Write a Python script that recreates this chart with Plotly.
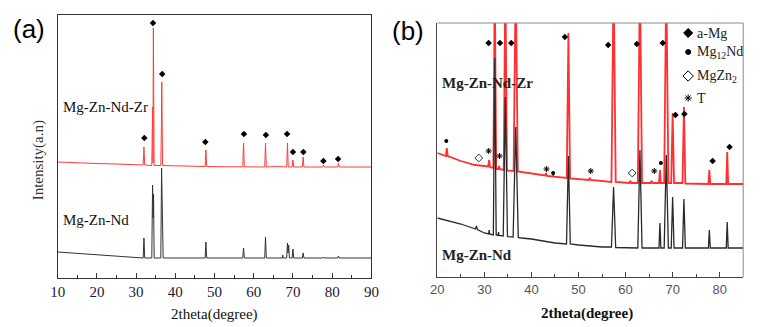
import plotly.graph_objects as go

W, H = 762, 327

# ---------------- Panel (a) data ----------------
a_red_x = [10, 15, 20, 25, 30, 31.8, 32.0, 32.2, 34.0, 34.2, 34.3, 34.4, 34.6, 36.3, 36.45, 36.55, 36.75,
           40, 45, 47.6, 47.8, 48.0, 53, 57.2, 57.4, 57.6, 62.8, 63.0, 63.2, 66, 68.4, 68.6, 68.8,
           69.8, 70.0, 70.2, 72.4, 72.6, 72.8, 77.6, 77.8, 78.0, 81.4, 81.6, 81.8, 90]
a_red_y = [116, 115, 114.5, 114, 113, 113, 131, 113, 112.5, 171, 115, 250, 112.5, 112.5, 150, 196, 112.5,
           112, 111.5, 111.5, 128, 111.5, 111.2, 111.2, 135, 111.2, 111, 135, 111, 111.5, 111, 135, 111,
           111, 118, 111, 111, 121, 111, 111, 113, 111, 111, 115, 111, 111]

a_blk_x = [10, 15, 20, 25, 30, 31.8, 32.0, 32.1, 32.2, 34.0, 34.2, 34.35, 34.45, 34.6, 36.3, 36.5, 36.6, 36.7, 36.9,
           40, 47.6, 47.8, 48.0, 57.2, 57.4, 57.6, 62.8, 63.0, 63.2, 67.3, 67.4, 67.5, 68.4, 68.6, 68.75, 68.9, 69.1,
           69.8, 70.0, 70.2, 72.4, 72.6, 72.8, 77.6, 77.8, 78.0, 81.4, 81.6, 81.8, 90]
a_blk_y = [26, 24.5, 23, 21.5, 20, 20, 40, 30, 20, 20, 93, 60, 84, 20, 20, 110, 70, 85, 20,
           20, 20, 36, 20, 20, 30, 20, 20, 41, 20, 20, 23, 20, 20, 35, 25, 33, 20,
           20, 29, 20, 20, 25, 20, 20, 21, 20, 20, 22, 20, 20]

a_mark_x = [32.1, 34.3, 36.65, 47.65, 57.5, 63.1, 68.5, 70.0, 72.65, 77.75, 81.5]
a_mark_y = [140, 255, 204, 136, 144, 143, 144, 126, 126, 117, 119]

a_ticks = [10, 20, 30, 40, 50, 60, 70, 80, 90]

# ---------------- Panel (b) data ----------------
b_red_x = [20, 21.8, 22.0, 22.2, 25, 28, 30.8, 31.0, 31.2, 31.9, 32.2, 32.5, 33.0, 33.1, 33.2, 34.1, 34.45, 34.8,
           36.2, 36.65, 37.1, 37.8, 40, 42.9, 43.1, 43.3, 44.4, 44.6, 44.8, 47.5, 47.85, 48.2, 52.2, 52.4, 52.6,
           57.0, 57.45, 57.9, 60.8, 61.0, 61.2, 62.6, 63.05, 63.5, 65.3, 65.5, 65.7, 67.1, 67.3, 67.5,
           68.2, 68.65, 69.1, 69.7, 70.0, 70.3, 72.1, 72.4, 72.7, 77.6, 77.8, 78.0, 81.4, 81.6, 81.8, 85]
b_red_y = [124, 121, 129, 121, 116, 112, 110.5, 117, 110, 109, 300, 108, 108, 111, 108, 107, 300, 106.5,
           106, 300, 105.5, 105, 104, 101.5, 104, 101, 100.5, 102, 100.3, 99, 244, 98.5, 97, 99, 97,
           95, 300, 95, 94, 96, 94, 94, 300, 94, 94, 96, 94, 94, 107, 94,
           94, 300, 94, 94, 164, 94, 94, 170, 93.5, 93, 107, 93, 93, 125, 93, 93]

b_blk_x = [20, 25, 28.1, 28.3, 28.5, 30, 30.9, 31.0, 31.1, 31.9, 32.2, 32.5, 32.9, 33.0, 33.1, 34.0, 34.45, 34.9,
           36.1, 36.65, 37.2, 37.8, 40, 45, 47.45, 47.85, 48.25, 50, 55, 57.0, 57.45, 57.9, 62.6, 63.05, 63.5,
           67.1, 67.3, 67.5, 68.2, 68.65, 69.1, 69.7, 70.0, 70.3, 72.1, 72.4, 72.7, 77.6, 77.8, 78.0,
           81.4, 81.6, 81.8, 85]
b_blk_y = [59, 53, 48, 51, 47.5, 44, 43, 47, 43, 42, 219, 42, 41.5, 45, 41.5, 41, 180, 40.5,
           40, 150, 39.5, 39, 38, 34, 33, 121, 33, 32, 30, 30, 90, 29.5, 29, 127, 29,
           29, 54, 29, 29, 122, 29, 29, 80, 29, 29, 78, 29, 29, 47, 29,
           29, 55, 29, 29]

b_amg_x = [30.9, 33.3, 35.7, 47.1, 56.3, 62.4, 67.9, 70.6, 72.5, 78.5, 82.1]
b_amg_y = [234, 234, 234, 240, 232, 233, 234, 162, 163, 116, 130]
b_nd_x = [21.9, 44.6, 67.5]
b_nd_y = [136, 104, 114]
b_zn_x = [28.8, 61.4]
b_zn_y = [119, 104]
b_t_x = [30.9, 33.2, 43.2, 52.6, 66.1]
b_t_y = [126, 121, 108, 106, 106]

b_ticks = [20, 30, 40, 50, 60, 70, 80]

legend_names = ["a-Mg", "Mg<sub>12</sub>Nd", "MgZn<sub>2</sub>", "T"]

SERIF = "Liberation Serif, Times New Roman, serif"
SANS = "Liberation Sans, Arial, sans-serif"

# plot-area pixel geometry
ax_l, ax_r, ax_t, ax_b = 51.7, 371.7, 15, 278
bx_l, bx_r, bx_t, bx_b = 439, 751, 23, 277

def px(x):
    return x / W

def py(y):
    return 1 - y / H

fig = go.Figure()

fig.add_trace(go.Scatter(x=a_red_x, y=a_red_y, mode="lines", line=dict(color="#ff3c3c", width=1),
                         xaxis="x", yaxis="y", showlegend=False))
fig.add_trace(go.Scatter(x=a_blk_x, y=a_blk_y, mode="lines", line=dict(color="#333333", width=1),
                         xaxis="x", yaxis="y", showlegend=False))
fig.add_trace(go.Scatter(x=a_mark_x, y=a_mark_y, mode="markers",
                         marker=dict(symbol="diamond", color="black", size=5),
                         xaxis="x", yaxis="y", showlegend=False))

fig.add_trace(go.Scatter(x=b_red_x, y=b_red_y, mode="lines", line=dict(color="#ff3030", width=1.8),
                         xaxis="x2", yaxis="y2", showlegend=False))
fig.add_trace(go.Scatter(x=b_blk_x, y=b_blk_y, mode="lines", line=dict(color="#2a2a2a", width=1.3),
                         xaxis="x2", yaxis="y2", showlegend=False))
fig.add_trace(go.Scatter(x=b_amg_x, y=b_amg_y, mode="markers",
                         marker=dict(symbol="diamond", color="black", size=5),
                         xaxis="x2", yaxis="y2", showlegend=False))
fig.add_trace(go.Scatter(x=b_nd_x, y=b_nd_y, mode="markers",
                         marker=dict(symbol="circle", color="black", size=4),
                         xaxis="x2", yaxis="y2", showlegend=False))
fig.add_trace(go.Scatter(x=b_zn_x, y=b_zn_y, mode="markers",
                         marker=dict(symbol="diamond-open", color="black", size=6, line=dict(width=0.8)),
                         xaxis="x2", yaxis="y2", showlegend=False))
fig.add_trace(go.Scatter(x=b_t_x, y=b_t_y, mode="markers",
                         marker=dict(symbol="asterisk-open", color="black", size=5, line=dict(width=1, color="black")),
                         xaxis="x2", yaxis="y2", showlegend=False))

# legend for panel (b) (markers drawn inside the plot area)
leg_sym = ["diamond", "circle", "diamond-open", "asterisk-open"]
leg_size = [7, 5, 8, 6]
leg_rows = [244, 225, 201, 179]
for s, sz, yy in zip(leg_sym, leg_size, leg_rows):
    fig.add_trace(go.Scatter(x=[73.3], y=[yy], mode="markers",
                             marker=dict(symbol=s, color="black", size=sz, line=dict(width=1, color="black")),
                             xaxis="x2", yaxis="y2", showlegend=False, cliponaxis=False))

annotations = []
for name, yy in zip(legend_names, leg_rows):
    annotations.append(dict(x=74.8, y=yy, xref="x2", yref="y2", text=name, showarrow=False,
                            xanchor="left", yanchor="middle", font=dict(family=SERIF, size=14, color="#222")))

# sample labels
annotations += [
    dict(x=px(55), y=py(107), xref="paper", yref="paper", text="Mg-Zn-Nd-Zr", showarrow=False,
         xanchor="left", yanchor="middle", font=dict(family=SERIF, size=15, color="#111")),
    dict(x=px(55), y=py(220), xref="paper", yref="paper", text="Mg-Zn-Nd", showarrow=False,
         xanchor="left", yanchor="middle", font=dict(family=SERIF, size=15, color="#111")),
    dict(x=px(442), y=py(83), xref="paper", yref="paper", text="<b>Mg-Zn-Nd-Zr</b>", showarrow=False,
         xanchor="left", yanchor="middle", font=dict(family=SERIF, size=15, color="#222")),
    dict(x=px(442), y=py(255), xref="paper", yref="paper", text="<b>Mg-Zn-Nd</b>", showarrow=False,
         xanchor="left", yanchor="middle", font=dict(family=SERIF, size=15, color="#222")),
    # panel letters
    dict(x=px(4), y=py(29), xref="paper", yref="paper", text="(a)", showarrow=False,
         xanchor="left", yanchor="middle", font=dict(family=SANS, size=26, color="black")),
    dict(x=px(391), y=py(31), xref="paper", yref="paper", text="(b)", showarrow=False,
         xanchor="left", yanchor="middle", font=dict(family=SANS, size=26, color="black")),
    # axis titles
    dict(x=px((ax_l + ax_r) / 2), y=py(314), xref="paper", yref="paper", text="2theta(degree)", showarrow=False,
         xanchor="center", yanchor="middle", font=dict(family=SERIF, size=15, color="#111")),
    dict(x=px(32), y=py(160), xref="paper", yref="paper", text="Intensity(a.n)", showarrow=False,
         textangle=-90, xanchor="center", yanchor="middle", font=dict(family=SERIF, size=15, color="#333")),
    dict(x=px(592), y=py(313), xref="paper", yref="paper", text="<b>2theta(degree)</b>", showarrow=False,
         xanchor="center", yanchor="middle", font=dict(family=SERIF, size=15, color="#111")),
]

shapes = [
    dict(type="line", xref="x2 domain", yref="y2 domain", x0=0, x1=1, y0=1, y1=1,
         line=dict(color="#8a8a8a", width=1)),
    dict(type="line", xref="x2 domain", yref="y2 domain", x0=1, x1=1, y0=0, y1=1,
         line=dict(color="#8a8a8a", width=1)),
]

fig.update_layout(
    width=W, height=H, margin=dict(l=0, r=0, t=0, b=0),
    paper_bgcolor="white", plot_bgcolor="white",
    showlegend=False, hovermode=False,
    annotations=annotations, shapes=shapes,
    xaxis=dict(domain=[px(ax_l), px(ax_r)], range=[10, 90], anchor="y",
               showline=True, linecolor="#333", linewidth=1, mirror=True,
               ticks="inside", ticklen=5, tickcolor="#333", tickvals=a_ticks,
               minor=dict(dtick=5, tick0=10, ticks="inside", ticklen=3, tickcolor="#333"),
               tickfont=dict(family=SERIF, size=15, color="#1a1a30"),
               showgrid=False, zeroline=False),
    yaxis=dict(domain=[py(ax_b), py(ax_t)], range=[0, ax_b - ax_t], anchor="x",
               showline=True, linecolor="#333", linewidth=1, mirror=True,
               showticklabels=False, ticks="", showgrid=False, zeroline=False),
    xaxis2=dict(domain=[px(bx_l), px(bx_r)], range=[20, 85], anchor="y2",
                showline=True, linecolor="#444", linewidth=1,
                ticks="inside", ticklen=5, tickcolor="#444", tickvals=b_ticks,
                minor=dict(dtick=5, tick0=20, ticks="inside", ticklen=3, tickcolor="#444"),
                tickfont=dict(family=SANS, size=13, color="#555"),
                showgrid=False, zeroline=False),
    yaxis2=dict(domain=[py(bx_b), py(bx_t)], range=[0, bx_b - bx_t], anchor="x2",
                showline=True, linecolor="#444", linewidth=1,
                showticklabels=False, ticks="", showgrid=False, zeroline=False),
)

fig.write_html("out.html", config={"displayModeBar": False, "staticPlot": True},
               post_script="document.body.style.margin='0';document.body.style.padding='0';")
